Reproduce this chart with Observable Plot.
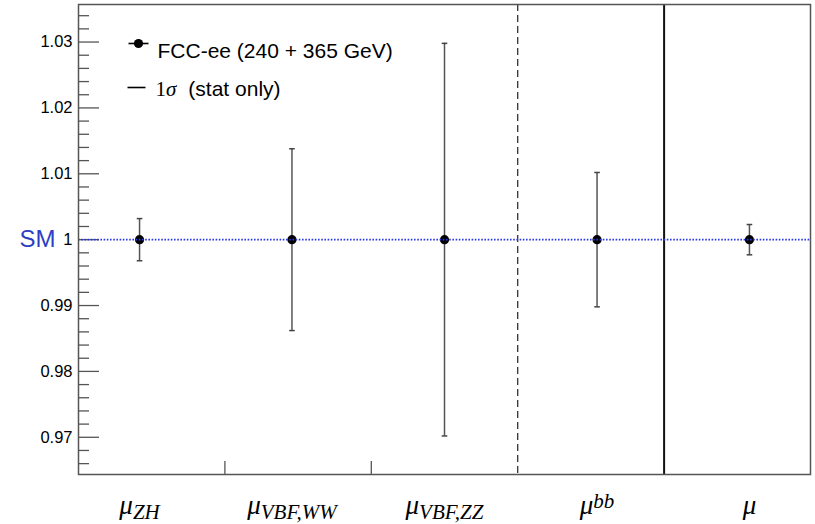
<!DOCTYPE html>
<html><head><meta charset="utf-8">
<script src="https://cdn.jsdelivr.net/npm/d3@7"></script>
<script src="https://cdn.jsdelivr.net/npm/@observablehq/plot@0.6"></script>
<style>
html,body{margin:0;padding:0;background:#fff;}
#chart svg{display:block;}
</style></head><body><div id="chart"></div>
<script>
// ---- data ----
const labelMain = ["μ", "μ", "μ", "μ", "μ"];
const labelScript = ["ZH", "VBF,WW", "VBF,ZZ", "bb", ""];
const scriptKind = ["sub", "sub", "sub", "sup", ""];
const xPos = [0.417, 1.458, 2.5, 3.542, 4.583];
const central = [1, 1, 1, 1, 1];
const errStat = [0.0032, 0.0138, 0.0298, 0.0102, 0.0023];
const yMajorTicks = [0.97, 0.98, 0.99, 1, 1.01, 1.02, 1.03];
const yTickLabels = ["0.97", "0.98", "0.99", "1", "1.01", "1.02", "1.03"];
const yMinorTicks = [0.966, 0.968, 0.972, 0.974, 0.976, 0.978, 0.982, 0.984, 0.986, 0.988,
  0.992, 0.994, 0.996, 0.998, 1.002, 1.004, 1.006, 1.008, 1.012, 1.014, 1.016, 1.018,
  1.022, 1.024, 1.026, 1.028, 1.032, 1.034];
const binEdgeTicks = [1, 2];
const dashedSep = [3];
const solidSep = [4];
const smValue = [1];
const legendEntries = ["FCC-ee (240 + 365 GeV)", "1σ  (stat only)"];

const rows = xPos.map((x, i) => ({
  x, y: central[i], lo: central[i] - errStat[i], hi: central[i] + errStat[i], i
}));

const hline = {draw(ctx, size) { const r = Math.sqrt(size / Math.PI); ctx.moveTo(-r, 0); ctx.lineTo(r, 0); }};

const sans = "'Liberation Sans', Helvetica, Arial, sans-serif";
const serif = "'Liberation Serif', 'Times New Roman', serif";

const chart = Plot.plot({
  width: 815, height: 524,
  marginLeft: 78, marginRight: 5, marginTop: 4, marginBottom: 50,
  style: {fontFamily: sans, background: "#fff", color: "#000"},
  x: {domain: [0, 5], label: null},
  y: {domain: [0.96435, 1.0357], label: null},
  marks: [
    Plot.ruleX(dashedSep, {stroke: "#333", strokeWidth: 1.3, strokeDasharray: "7,4"}),
    Plot.ruleX(solidSep, {stroke: "#111", strokeWidth: 2}),
    Plot.axisY({ticks: yMinorTicks, tickSize: -11, tickFormat: () => "", label: null, stroke: "#555", strokeWidth: 1.3}),
    Plot.axisY({ticks: yMajorTicks, tickSize: -21, tickFormat: () => "", label: null, stroke: "#555", strokeWidth: 1.3}),
    Plot.axisY({ticks: yMajorTicks, tickSize: 0, tickPadding: 6, fontSize: 16.5, fill: "#000", label: null,
      tickFormat: (d, i) => yTickLabels[i]}),
    Plot.axisX({ticks: binEdgeTicks, tickSize: -13, tickFormat: () => "", label: null, stroke: "#555", strokeWidth: 1.3}),
    Plot.axisX({ticks: xPos, tickSize: 0, tickPadding: 20, fontSize: 27, fill: "#000", label: null,
      tickFormat: (d, i) => labelMain[i] + "|" + labelScript[i] + "|" + scriptKind[i]}),
    Plot.ruleX(rows, {x: "x", y1: "lo", y2: "hi", stroke: "#555", strokeWidth: 1.5}),
    Plot.dot(rows, {x: "x", y: "hi", symbol: hline, r: 2.8, fill: "none", stroke: "#444", strokeWidth: 1.5}),
    Plot.dot(rows, {x: "x", y: "lo", symbol: hline, r: 2.8, fill: "none", stroke: "#444", strokeWidth: 1.5}),
    Plot.dot(rows, {x: "x", y: "y", r: 4.6, fill: "#000", stroke: "none"}),
    Plot.ruleY(smValue, {stroke: "#2a3ae8", strokeWidth: 1.6, strokeDasharray: "1.6,1.6"}),
    Plot.text(["SM"], {x: () => 0, y: () => smValue[0], text: d => d, dx: -23, textAnchor: "end",
      fontSize: 24, fill: "#2d3fc4"}),
    // legend
    Plot.dot([legendEntries[0]], {x: null, y: null, frameAnchor: "top-left", dx: 60, dy: 39,
      symbol: hline, r: 10, stroke: "#000", strokeWidth: 1.6, fill: "none"}),
    Plot.dot([legendEntries[0]], {x: null, y: null, frameAnchor: "top-left", dx: 60, dy: 39,
      r: 4.6, fill: "#000", stroke: "none"}),
    Plot.text([legendEntries[0]], {x: null, y: null, text: d => d, frameAnchor: "top-left",
      dx: 79, dy: 39, textAnchor: "start", fontSize: 21, fill: "#000"}),
    Plot.dot([legendEntries[1]], {x: null, y: null, frameAnchor: "top-left", dx: 58, dy: 83,
      symbol: hline, r: 9, stroke: "#000", strokeWidth: 1.6, fill: "none"}),
    Plot.text([legendEntries[1]], {x: null, y: null, text: d => d, frameAnchor: "top-left",
      dx: 77, dy: 77, textAnchor: "start", fontSize: 21, fill: "#000"}),
    Plot.frame({stroke: "#555", strokeWidth: 1.5})
  ]
});

// rich text for x labels (μ with sub/superscripts) and the 1σ legend entry
d3.select(chart).selectAll("text").each(function() {
  const t = this.textContent;
  if (t.includes("|")) {
    const [m, s, k] = t.split("|");
    const el = d3.select(this);
    el.text("").style("font-family", serif).style("font-style", "italic");
    el.append("tspan").text(m);
    if (s) {
      el.append("tspan").attr("dy", k === "sub" ? 5 : -6).style("font-size", "21px").text(s);
    }
  } else if (t === legendEntries[1]) {
    const el = d3.select(this);
    el.text("");
    el.append("tspan").style("font-family", serif).text("1");
    el.append("tspan").style("font-family", serif).style("font-style", "italic").text("σ");
    el.append("tspan").attr("dx", 12).text("(stat only)");
  }
});

document.getElementById("chart").appendChild(chart);
</script>
</body></html>
